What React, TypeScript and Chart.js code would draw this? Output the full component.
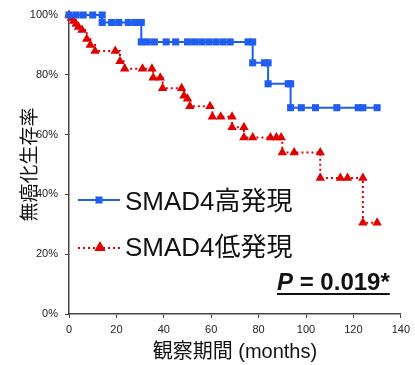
import React, { useEffect, useRef } from 'react';
import { Chart, registerables } from 'chart.js';

Chart.register(...registerables);

const seriesLabels = ['SMAD4高発現', 'SMAD4低発現'];
const seriesColors = ['#1f5ef0', '#e00000'];

const highMonths = [0, 3, 6, 10, 14, 14, 18, 21, 25, 28, 30.5, 30.5, 33, 36, 41, 45, 50, 53, 56, 59, 62, 65, 68, 75.5, 77.5, 77.5, 82.5, 84, 84, 92.5, 93.5, 93.5, 98, 104, 113, 122, 124, 130];
const highSurvival = [100, 100, 100, 100, 100, 97.5, 97.5, 97.5, 97.5, 97.5, 97.5, 91, 91, 91, 91, 91, 91, 91, 91, 91, 91, 91, 91, 91, 91, 84, 84, 84, 77, 77, 77, 69, 69, 69, 69, 69, 69, 69];

const lowMonths = [0, 1, 2, 3, 4, 5.5, 7.5, 9, 11, 19.5, 21.5, 23.5, 31, 35, 35.5, 38.5, 39.5, 47.5, 48.5, 50, 51, 59.5, 60.5, 64, 68.8, 68.8, 73.8, 73.8, 77.5, 85, 87.5, 89.5, 90, 95, 106, 106, 114.5, 117.5, 124, 124, 130];
const lowSurvival = [100, 99, 98, 97, 96, 95, 92, 90, 88, 88, 84.5, 82, 82, 82, 79, 79, 75.5, 75.5, 73, 72, 69.5, 69.5, 66, 66, 66, 62.5, 62.5, 59, 59, 59, 59, 59, 54, 54, 54, 45.5, 45.5, 45.5, 45.5, 30.5, 30.5];

const xTicks = [0, 20, 40, 60, 80, 100, 120, 140];
const yTicks = [0, 20, 40, 60, 80, 100];
const xTitle = '観察期間 (months)';
const yTitle = '無癌化生存率';
const pLetter = 'P';
const pRest = ' = 0.019*';

const FONT = '"Liberation Sans", Arial, "Noto Sans CJK JP", sans-serif';

function drawTriangle(ctx: CanvasRenderingContext2D, x: number, y: number, r: number) {
  ctx.beginPath();
  ctx.moveTo(x, y - r);
  ctx.lineTo(x + r * 0.95, y + r * 0.65);
  ctx.lineTo(x - r * 0.95, y + r * 0.65);
  ctx.closePath();
  ctx.fill();
}

const overlayPlugin = {
  id: 'overlay',
  afterDatasetsDraw(chart: any) {
    const ctx: CanvasRenderingContext2D = chart.ctx;
    ctx.save();
    // legend row 1
    ctx.strokeStyle = seriesColors[0];
    ctx.lineWidth = 2;
    ctx.setLineDash([]);
    ctx.beginPath();
    ctx.moveTo(78, 200);
    ctx.lineTo(120, 200);
    ctx.stroke();
    ctx.fillStyle = seriesColors[0];
    ctx.fillRect(95.5, 196.5, 7, 7);
    // legend row 2
    ctx.strokeStyle = seriesColors[1];
    ctx.setLineDash([2, 3]);
    ctx.beginPath();
    ctx.moveTo(78, 248);
    ctx.lineTo(120, 248);
    ctx.stroke();
    ctx.setLineDash([]);
    ctx.fillStyle = seriesColors[1];
    drawTriangle(ctx, 100, 247, 6);

    ctx.fillStyle = '#111';
    ctx.font = `26px ${FONT}`;
    ctx.textBaseline = 'alphabetic';
    ctx.textAlign = 'left';
    ctx.fillText(seriesLabels[0], 125, 210);
    ctx.fillText(seriesLabels[1], 125, 256);

    // P value
    ctx.font = `italic bold 24px ${FONT}`;
    ctx.fillText(pLetter, 277, 290);
    const w1 = ctx.measureText(pLetter).width;
    ctx.font = `bold 24px ${FONT}`;
    ctx.fillText(pRest, 277 + w1, 290);
    const w2 = ctx.measureText(pRest).width;
    ctx.fillRect(277, 293, w1 + w2, 2);
    ctx.restore();
  },
};

export default function App() {
  const ref = useRef<HTMLCanvasElement | null>(null);
  useEffect(() => {
    document.body.style.margin = '0';
    if (!ref.current) return;
    const high = highMonths.map((m, i) => ({ x: m, y: highSurvival[i] }));
    const low = lowMonths.map((m, i) => ({ x: m, y: lowSurvival[i] }));
    const chart = new Chart(ref.current, {
      type: 'line',
      data: {
        datasets: [
          {
            label: seriesLabels[0],
            data: high,
            borderColor: seriesColors[0],
            backgroundColor: seriesColors[0],
            borderWidth: 2,
            stepped: 'before',
            pointStyle: 'rect',
            pointRadius: 5,
            pointBorderWidth: 0,
            clip: false,
          } as any,
          {
            label: seriesLabels[1],
            data: low,
            borderColor: seriesColors[1],
            backgroundColor: seriesColors[1],
            borderWidth: 2,
            borderDash: [2, 3],
            stepped: 'before',
            pointStyle: 'triangle',
            pointRadius: 5.5,
            pointBorderWidth: 0,
            clip: false,
          } as any,
        ],
      },
      options: {
        responsive: false,
        animation: false,
        layout: { padding: { top: 15, right: 14, left: 0, bottom: 0 } },
        plugins: { legend: { display: false }, tooltip: { enabled: false } },
        scales: {
          x: {
            type: 'linear',
            min: 0,
            max: 140,
            afterBuildTicks: (s: any) => { s.ticks = xTicks.map((v) => ({ value: v })); },
            afterFit: (s: any) => { s.height = 51; },
            grid: { drawOnChartArea: false, drawTicks: true, tickLength: 4, color: '#444' },
            border: { color: '#444', width: 1.5 },
            ticks: { color: '#222', font: { family: FONT, size: 11 }, padding: 5, maxRotation: 0 },
            title: { display: true, text: xTitle, color: '#111', font: { family: FONT, size: 20, lineHeight: 1.2 }, padding: { top: 0, bottom: 1 } },
          },
          y: {
            type: 'linear',
            min: 0,
            max: 100,
            afterBuildTicks: (s: any) => { s.ticks = yTicks.map((v) => ({ value: v })); },
            afterFit: (s: any) => { s.width = 69; },
            grid: { drawOnChartArea: false, drawTicks: true, tickLength: 4, color: '#444' },
            border: { color: '#444', width: 1.5 },
            ticks: { color: '#222', font: { family: FONT, size: 11 }, padding: 7, callback: (v: any) => `${v}%` },
            title: { display: true, text: yTitle, color: '#111', font: { family: FONT, size: 19, lineHeight: 1.2 }, padding: { top: 19, bottom: 0 } },
          },
        },
      } as any,
      plugins: [overlayPlugin],
    });
    return () => chart.destroy();
  }, []);
  return <canvas ref={ref} width={415} height={365} style={{ display: 'block' }} />;
}
